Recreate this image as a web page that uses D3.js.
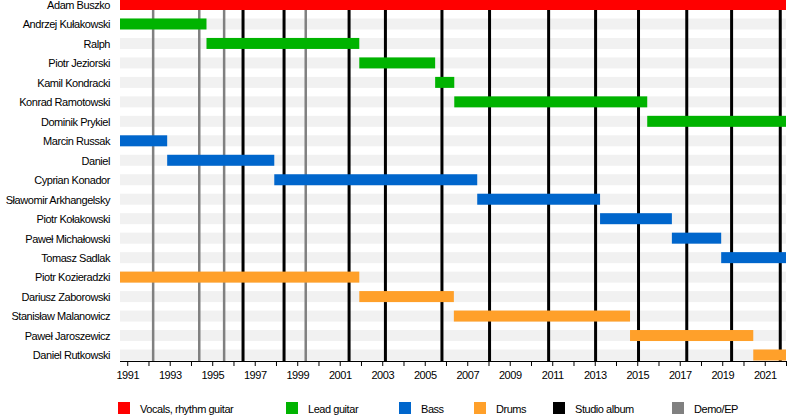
<!doctype html>
<html lang="en">
  <head>
    <meta charset="utf-8">
    <title>Band members timeline</title>
    <style>
      body { margin: 0; background: #fff; }
      text { font-family: "Liberation Sans", Arial, sans-serif; fill: #000; letter-spacing: -0.45px; }
      .name { font-size: 11px; }
      .tick text { font-size: 11px; }
      .legend text { font-size: 11px; }
    </style>
  </head>
  <body>
    <div id="chart"></div>

    <script src="https://d3js.org/d3.v7.min.js"></script>
    <script type="text/javascript">
      // data (years as decimals)
      const members = [
        "Adam Buszko", "Andrzej Kułakowski", "Ralph", "Piotr Jeziorski",
        "Kamil Kondracki", "Konrad Ramotowski", "Dominik Prykiel",
        "Marcin Russak", "Daniel", "Cyprian Konador", "Sławomir Arkhangelsky",
        "Piotr Kołakowski", "Paweł Michałowski", "Tomasz Sadlak",
        "Piotr Kozieradzki", "Dariusz Zaborowski", "Stanisław Malanowicz",
        "Paweł Jaroszewicz", "Daniel Rutkowski"
      ];
      const roles = [
        "vocals", "lead", "lead", "lead", "lead", "lead", "lead",
        "bass", "bass", "bass", "bass", "bass", "bass", "bass",
        "drums", "drums", "drums", "drums", "drums"
      ];
      const periodStart = 1990.66;
      const periodEnd = 2022.0;
      const starts = [
        1990.66, 1990.66, 1994.73, 2001.92, 2005.49, 2006.39, 2015.47,
        1990.66, 1992.88, 1997.92, 2007.47, 2013.25, 2016.63, 2018.95,
        1990.66, 2001.92, 2006.37, 2014.66, 2020.46
      ];
      const ends = [
        2022.0, 1994.73, 2001.92, 2005.49, 2006.39, 2015.47, 2022.0,
        1992.88, 1997.92, 2007.47, 2013.25, 2016.63, 2018.95, 2022.0,
        2001.92, 2006.37, 2014.66, 2020.46, 2022.0
      ];
      const studioAlbums = [1996.45, 1998.38, 2001.44, 2003.15, 2005.81, 2008.05,
                            2010.83, 2013.04, 2015.06, 2017.33, 2019.44, 2021.73];
      const demos = [1992.22, 1994.39, 1995.56, 1999.40];
      const tickYears = d3.range(1991, 2023);
      const legendKeys = ["vocals", "lead", "bass", "drums", "album", "demo"];
      const legendLabels = ["Vocals, rhythm guitar", "Lead guitar", "Bass", "Drums", "Studio album", "Demo/EP"];

      const colors = {
        vocals: "#ff0000",
        lead: "#00b300",
        bass: "#0066cc",
        drums: "#ffa02a",
        album: "#000000",
        demo: "#808080"
      };

      const w = 800;
      const h = 420;
      const left = 120, right = 786;
      const barH = 11;
      const axisY = 361;

      const svg = d3.select('#chart')
                    .append('svg')
                    .attr("width", w)
                    .attr("height", h);

      const x = d3.scaleLinear()
                  .domain([periodStart, periodEnd])
                  .range([left, right]);

      const y = d3.scalePoint()
                  .domain(members)
                  .range([4.5, 355]);

      const rows = members.map((name, i) => ({
        name: name, role: roles[i], start: starts[i], end: ends[i]
      }));

      // grey row stripes
      svg.append('g')
        .selectAll('rect')
        .data(members)
        .enter()
        .append('rect')
        .attr('x', x(periodStart))
        .attr('width', x(periodEnd) - x(periodStart))
        .attr('y', d => y(d) - barH / 2)
        .attr('height', barH)
        .attr('fill', '#f1f1f1');

      // release lines
      const lines = demos.map(d => ({year: d, kind: "demo"}))
        .concat(studioAlbums.map(d => ({year: d, kind: "album"})));

      svg.append('g')
        .selectAll('line')
        .data(lines)
        .enter()
        .append('line')
        .attr('x1', d => x(d.year))
        .attr('x2', d => x(d.year))
        .attr('y1', 0)
        .attr('y2', axisY)
        .attr('stroke', d => colors[d.kind])
        .attr('stroke-width', d => d.kind === "album" ? 3 : 2.5);

      // member bars
      svg.append('g')
        .selectAll('rect')
        .data(rows)
        .enter()
        .append('rect')
        .attr('x', d => x(d.start))
        .attr('width', d => x(d.end) - x(d.start))
        .attr('y', d => y(d.name) - barH / 2)
        .attr('height', barH)
        .attr('fill', d => colors[d.role]);

      // names
      svg.append('g')
        .selectAll('text')
        .data(members)
        .enter()
        .append('text')
        .attr('class', 'name')
        .attr('x', 110)
        .attr('y', d => y(d) + 0.5)
        .attr('dy', '0.35em')
        .attr('text-anchor', 'end')
        .text(d => d);

      // x axis
      const axis = d3.axisBottom(x)
                     .tickValues(tickYears)
                     .tickSize(5)
                     .tickFormat(d => (d - 1991) % 2 === 0 ? String(d) : "");

      const gAxis = svg.append('g')
        .attr('transform', `translate(0,${axisY})`)
        .call(axis);
      gAxis.select('.domain')
        .attr('d', `M${left},0.5H${right}`)
        .attr('stroke', '#000');
      gAxis.selectAll('.tick text')
        .attr('dy', '0.95em')
        .style('font-family', '"Liberation Sans", Arial, sans-serif');

      // legend
      const legendX = [118, 286, 399, 474, 553, 672];
      const legend = svg.append('g')
        .attr('class', 'legend')
        .selectAll('g')
        .data(legendKeys)
        .enter()
        .append('g')
        .attr('transform', (d, i) => `translate(${legendX[i]},402)`);

      legend.append('rect')
        .attr('width', 12)
        .attr('height', 12)
        .attr('fill', d => colors[d]);

      legend.append('text')
        .attr('x', 22)
        .attr('y', 11)
        .text((d, i) => legendLabels[i]);
    </script>
  </body>
</html>
